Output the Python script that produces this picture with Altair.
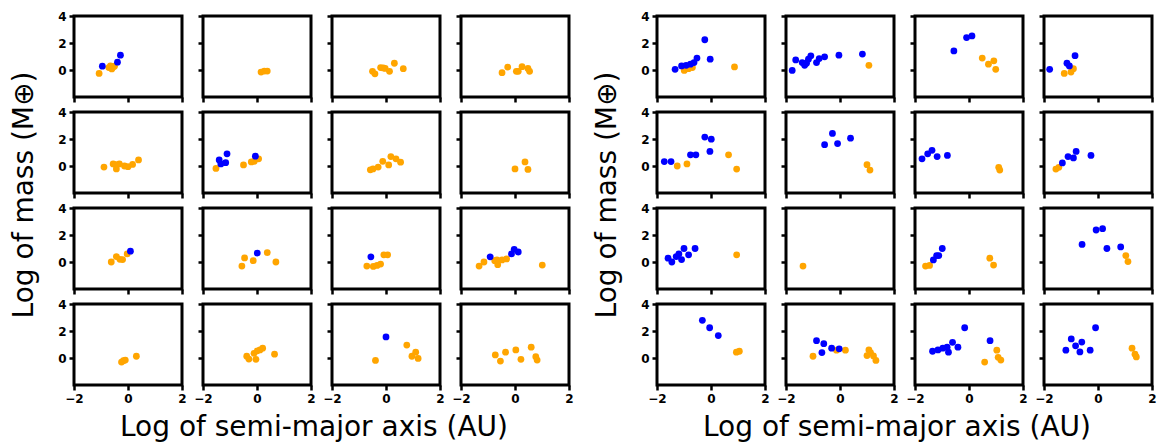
import altair as alt
import pandas as pd

# Axis ticks, domains and titles shared by every panel
X_TICKS = [-2, 0, 2]
Y_TICKS = [0, 2, 4]
X_DOMAIN = [-2, 2]
Y_DOMAIN = [-2, 4]
SERIES = ["A", "B"]
X_TITLE = "Log of semi-major axis (AU)"
Y_TITLE = "Log of mass (M⊕)"

# Each grid is 4x4 panels, listed row by row; each panel is a list of (log a, log M)
LEFT_A = [
    [(-0.95, 0.28), (-0.39, 0.58), (-0.28, 1.1)], [], [], [],
    [], [(-1.4, 0.45), (-1.34, 0.15), (-1.16, 0.25), (-1.11, 0.9), (-0.06, 0.73)], [], [],
    [(0.09, 0.8)], [(0.01, 0.66)], [(-0.56, 0.38)], [(-0.92, 0.38), (-0.13, 0.6), (-0.03, 0.94), (0.12, 0.74)],
    [], [], [(0.0, 1.56)], [],
]
LEFT_B = [
    [(-1.07, -0.25), (-0.71, 0.18), (-0.65, 0.3), (-0.55, 0.22), (-0.6, 0.08), (-0.5, 0.28)],
    [(0.15, -0.15), (0.27, -0.08), (0.38, -0.08)],
    [(-0.5, -0.1), (-0.41, -0.28), (-0.2, 0.18), (-0.1, 0.15), (-0.03, 0.12), (0.13, -0.1), (0.31, 0.5), (0.64, 0.1)],
    [(-0.48, -0.2), (-0.27, 0.22), (0.05, -0.1), (0.12, -0.1), (0.26, 0.25), (0.48, 0.12), (0.54, -0.1)],
    [(-0.89, -0.08), (-0.55, 0.15), (-0.43, -0.22), (-0.32, 0.15), (-0.45, 0.1), (-0.13, 0.0), (0.0, -0.05), (0.17, 0.12), (0.39, 0.45)],
    [(-1.52, -0.18), (-0.5, 0.08), (-0.21, 0.3), (-0.1, 0.35), (0.06, 0.53)],
    [(-0.58, -0.28), (-0.48, -0.22), (-0.29, -0.08), (-0.12, 0.35), (0.1, 0.08), (0.18, 0.7), (0.37, 0.53), (0.54, 0.28)],
    [(0.0, -0.22), (0.37, 0.3), (0.48, -0.25)],
    [(-0.62, 0.0), (-0.43, 0.4), (-0.3, 0.2), (-0.2, 0.18), (-0.03, 0.6)],
    [(-0.56, -0.3), (-0.46, 0.3), (-0.14, 0.1), (0.38, 0.69), (0.7, 0.0)],
    [(-0.71, -0.3), (-0.47, -0.33), (-0.33, -0.25), (-0.2, -0.15), (-0.08, 0.53), (0.06, 0.53)],
    [(-1.33, -0.3), (-1.15, 0.0), (-0.75, 0.1), (-0.67, 0.15), (-0.64, -0.2), (-0.48, 0.15), (-0.31, 0.23), (1.01, -0.23)],
    [(-0.24, -0.3), (-0.17, -0.2), (-0.1, -0.15), (0.31, 0.13)],
    [(-0.38, 0.13), (-0.3, -0.08), (-0.11, 0.35), (-0.04, -0.1), (0.01, 0.53), (0.11, 0.6), (0.21, 0.73), (0.65, 0.28)],
    [(-0.39, -0.18), (0.77, 0.96), (0.96, 0.13), (1.1, 0.43), (1.19, -0.03)],
    [(-0.73, 0.23), (-0.54, -0.23), (-0.35, 0.43), (0.03, 0.6), (0.22, -0.1), (0.6, 0.8), (0.77, 0.1), (0.82, -0.15)],
]
RIGHT_A = [
    [(-1.33, 0.05), (-1.09, 0.3), (-0.92, 0.35), (-0.76, 0.43), (-0.63, 0.55), (-0.52, 0.88), (-0.23, 2.24), (-0.03, 0.8)],
    [(-1.77, -0.03), (-1.64, 0.75), (-1.4, 0.55), (-1.31, 0.35), (-1.24, 0.5), (-1.17, 0.8), (-1.08, 1.05), (-0.87, 0.55), (-0.77, 0.85), (-0.57, 0.98), (-0.04, 1.1), (0.83, 1.18)],
    [(-0.56, 1.41), (-0.09, 2.4), (0.11, 2.52)],
    [(-1.79, 0.05), (-1.15, 0.5), (-1.06, 0.3), (-0.85, 1.06)],
    [(-1.73, 0.33), (-1.48, 0.33), (-0.76, 0.83), (-0.56, 0.83), (-0.23, 2.14), (0.01, 1.99), (-0.04, 1.08)],
    [(-0.57, 1.58), (-0.28, 2.41), (-0.09, 1.66), (0.39, 2.06)],
    [(-1.74, 0.53), (-1.53, 0.9), (-1.37, 1.16), (-1.18, 0.7), (-0.8, 0.78)],
    [(-1.32, 0.23), (-1.11, 0.7), (-0.91, 0.6), (-0.81, 1.08), (-0.26, 0.78)],
    [(-1.59, 0.28), (-1.45, 0.0), (-1.29, 0.4), (-1.19, 0.6), (-1.09, 0.18), (-1.0, 1.0), (-0.83, 0.53), (-0.59, 1.0)],
    [],
    [(-1.32, 0.15), (-1.2, 0.48), (-1.12, 0.48), (-0.99, 1.0)],
    [(-0.59, 1.3), (-0.07, 2.37), (0.17, 2.47), (0.33, 1.0), (0.84, 1.12)],
    [(-0.32, 2.79), (-0.05, 2.24), (0.27, 1.66)],
    [(-0.87, 1.28), (-0.67, 0.4), (-0.6, 1.06), (-0.31, 0.73), (-0.03, 0.68)],
    [(-1.35, 0.5), (-1.15, 0.6), (-0.97, 0.73), (-0.81, 0.8), (-0.76, 0.43), (-0.61, 1.16), (-0.41, 0.8), (-0.16, 2.24), (0.78, 1.28)],
    [(-1.19, 0.58), (-0.99, 1.41), (-0.83, 0.9), (-0.67, 0.45), (-0.6, 1.18), (-0.29, 0.58), (-0.09, 2.24)],
]
RIGHT_B = [
    [(-0.99, -0.03), (-0.83, 0.1), (-0.69, 0.18), (0.87, 0.23)],
    [(1.07, 0.35)],
    [(0.49, 0.88), (0.72, 0.43), (0.92, 0.68), (0.99, 0.05)],
    [(-1.25, -0.25), (-1.0, -0.15), (-0.91, 0.1)],
    [(-1.25, 0.0), (-0.89, 0.15), (0.65, 0.83), (0.95, -0.23)],
    [(1.0, 0.1), (1.11, -0.3)],
    [(1.1, -0.1), (1.14, -0.3)],
    [(-1.56, -0.23), (-1.45, -0.1)],
    [(0.95, 0.53)],
    [(-1.37, -0.3)],
    [(-1.61, -0.3), (-1.46, -0.25), (0.77, 0.28), (0.91, -0.23)],
    [(1.03, 0.48), (1.11, 0.03)],
    [(0.94, 0.43), (1.05, 0.5)],
    [(-1.0, 0.13), (-0.13, 0.58), (0.2, 0.58), (1.0, 0.18), (1.07, 0.6), (1.13, 0.4), (1.24, 0.15), (1.33, -0.18)],
    [(0.58, -0.3), (1.03, 0.58), (1.08, 0.05), (1.18, -0.15)],
    [(1.26, 0.73), (1.37, 0.28), (1.42, 0.08)],
]

PANEL_W, PANEL_H = 108, 81
COL_GAP, ROW_GAP = 21, 15
GRID_GAP = 88
GRID_W = 4 * PANEL_W + 3 * COL_GAP
GRID_H = 4 * PANEL_H + 3 * ROW_GAP
FONT = "DejaVu Sans"


def panel(points_a, points_b, row, col):
    records = [{"x": x, "y": y, "set": SERIES[1]} for x, y in points_b]
    records += [{"x": x, "y": y, "set": SERIES[0]} for x, y in points_a]
    df = pd.DataFrame(records, columns=["x", "y", "set"])

    bottom = row == 3
    first = col == 0
    x_kw = dict(values=X_TICKS, labels=bottom, title=None)
    if bottom and first:
        x_kw.update(title=X_TITLE, titleX=GRID_W / 2 - 8, titleY=50,
                    titleAlign="center", titleBaseline="alphabetic")
    y_kw = dict(values=Y_TICKS, labels=first, title=None)
    if first and row == 0:
        y_kw.update(title=Y_TITLE, titleX=-42, titleY=GRID_H / 2 - 6,
                    titleAlign="center", titleBaseline="alphabetic", titleAngle=270)

    return (
        alt.Chart(df)
        .mark_circle(size=46, opacity=1)
        .encode(
            x=alt.X("x:Q", scale=alt.Scale(domain=X_DOMAIN, nice=False, zero=False),
                    axis=alt.Axis(**x_kw)),
            y=alt.Y("y:Q", scale=alt.Scale(domain=Y_DOMAIN, nice=False, zero=False),
                    axis=alt.Axis(**y_kw)),
            color=alt.Color("set:N", scale=alt.Scale(domain=SERIES, range=["#0000ff", "#ffa500"]),
                            legend=None),
        )
        .properties(width=PANEL_W, height=PANEL_H)
    )


def spacer():
    return (
        alt.Chart(pd.DataFrame({"v": [0]}))
        .mark_point(opacity=0)
        .encode(x=alt.X("v:Q", axis=None), y=alt.Y("v:Q", axis=None))
        .properties(width=GRID_GAP - 2 * COL_GAP, height=PANEL_H,
                    view=alt.ViewBackground(strokeOpacity=0))
    )


cells = []
for r in range(4):
    for c in range(4):
        i = r * 4 + c
        cells.append(panel(LEFT_A[i], LEFT_B[i], r, c))
    cells.append(spacer())
    for c in range(4):
        i = r * 4 + c
        cells.append(panel(RIGHT_A[i], RIGHT_B[i], r, c))

chart = (
    alt.concat(*cells, columns=9, spacing=alt.RowColnumber(row=ROW_GAP, column=COL_GAP),
               bounds="flush", align="each")
    .properties(padding={"left": 8, "top": 8, "right": 5, "bottom": 5}, background="white")
    .configure_view(stroke="black", strokeWidth=3)
    .configure_axis(
        grid=False, domain=False,
        tickColor="black", tickWidth=2.5, tickSize=5,
        labelFont=FONT, labelFontSize=12, labelFontWeight="bold", labelColor="black",
        labelPadding=3, labelFlush=False, labelOverlap=False,
        titleFont=FONT, titleFontSize=28, titleFontWeight="normal", titleColor="black",
    )
)

chart.save("out.html", embed_options={"renderer": "svg", "actions": False})
